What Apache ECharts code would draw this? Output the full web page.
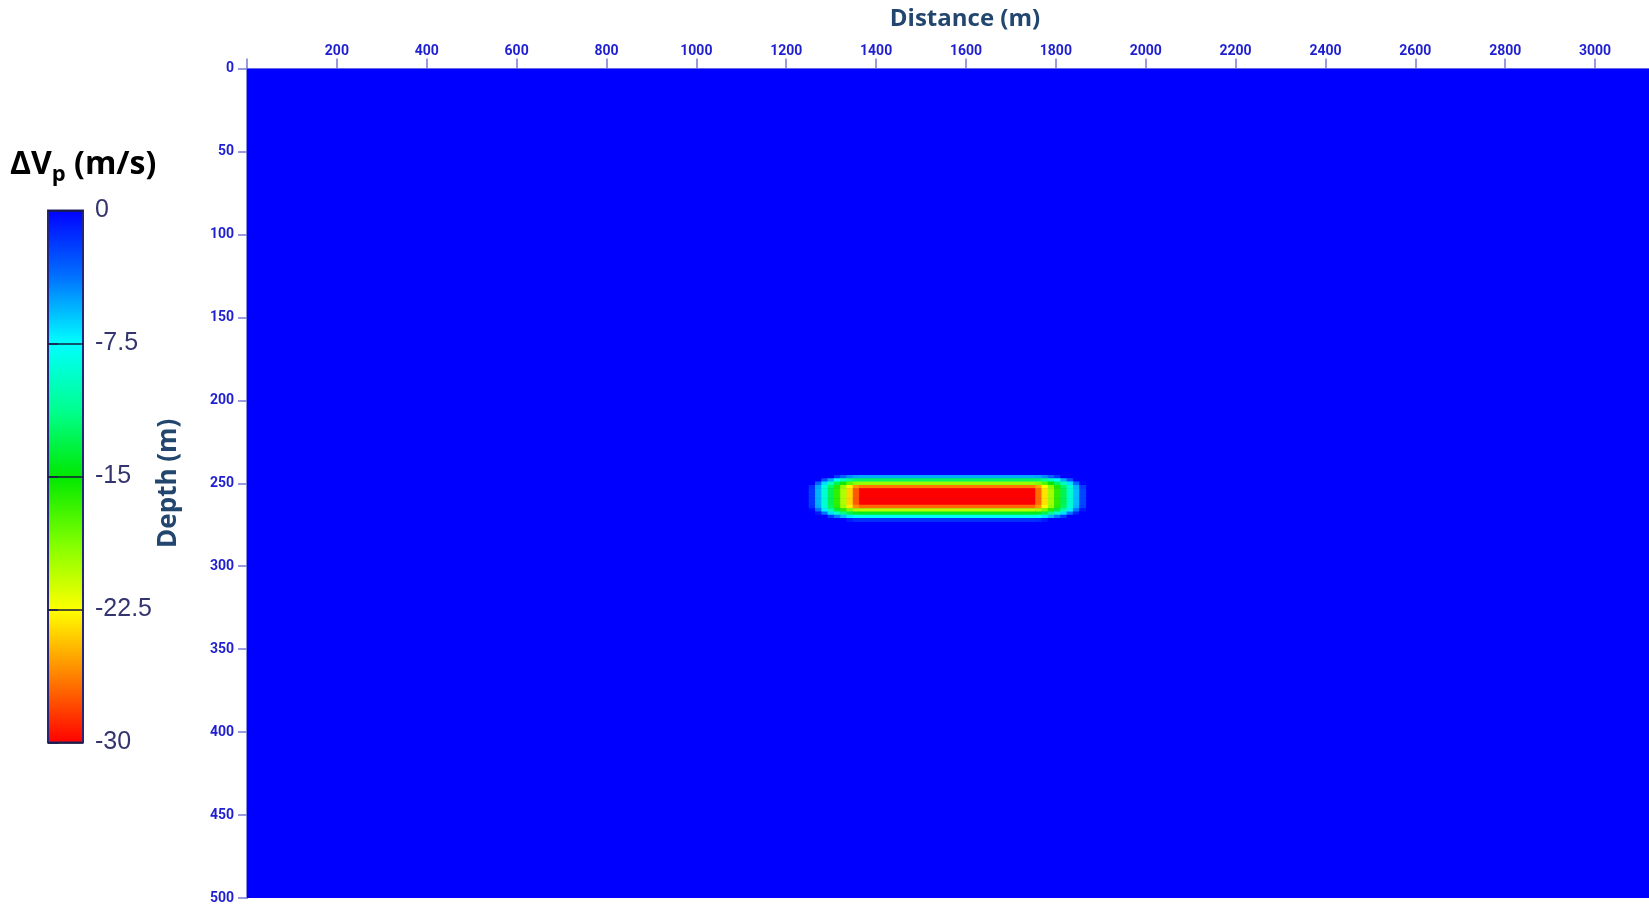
<!DOCTYPE html>
<html>
<head>
<meta charset="utf-8">
<script src="https://cdn.jsdelivr.net/npm/echarts@6/dist/echarts.min.js"></script>
<style>
html,body{margin:0;padding:0;background:#ffffff;}
#chart{width:1649px;height:905px;}
</style>
</head>
<body>
<div id="chart"></div>
<script>
// ---------------- data ----------------
const distanceRange = [0, 3120];           // m
const depthRange = [0, 500];               // m
const distanceTickLabels = [200, 400, 600, 800, 1000, 1200, 1400, 1600, 1800, 2000, 2200, 2400, 2600, 2800, 3000];
const depthTickLabels = [0, 50, 100, 150, 200, 250, 300, 350, 400, 450, 500];
const colorbarTickLabels = [0, -7.5, -15, -22.5, -30];
const dVpRange = [-30, 0];                 // m/s
const backgroundDVp = 0;

// palette from -30 (low) to 0 (high)
const paletteLowToHigh = ['#ff0000', '#ff8000', '#ffff00', '#80ff00', '#00e800', '#00ff90', '#00ffff', '#0070ff', '#0000ff'];

// anomaly cell boundaries
const distanceEdges = [1250, 1264, 1278, 1292, 1306, 1320, 1334, 1348, 1362, 1754, 1768, 1782, 1796, 1810, 1824, 1838, 1852, 1866];
const depthEdges = [245, 247, 249, 251, 253, 255, 257, 259, 261, 263, 265, 267, 269, 271, 273];

// dVp values per depth row (m/s), one value per distance cell
const dVp246 = [0, 0, 0, 0, -1.8, -3.4, -4.5, -5.1, -5.3, -5.1, -4.4, -3.2, -1.7, 0, 0, 0, 0];
const dVp248 = [0, 0, -2.7, -5.3, -7.7, -9.8, -11.3, -12.2, -12.4, -12.1, -11.1, -9.6, -7.6, -5.3, -2.8, 0, 0];
const dVp250 = [0, -3.3, -6.6, -9.8, -12.8, -15.5, -17.7, -19.1, -19.4, -18.9, -17.4, -15.2, -12.6, -9.7, -6.7, -3.5, -0.3];
const dVp252 = [-1.6, -5.2, -8.8, -12.4, -16.0, -19.5, -22.8, -25.6, -26.5, -25.2, -22.4, -19.1, -15.8, -12.4, -8.9, -5.5, -2.0];
const dVp254 = [-1.8, -5.5, -9.1, -12.8, -16.4, -20.1, -23.7, -27.4, -30, -26.8, -23.3, -19.7, -16.3, -12.8, -9.2, -5.8, -2.3];
const dVp256 = [-1.8, -5.5, -9.1, -12.8, -16.4, -20.1, -23.7, -27.4, -30, -26.8, -23.3, -19.7, -16.3, -12.8, -9.2, -5.8, -2.3];
const dVp258 = [-1.8, -5.5, -9.1, -12.8, -16.4, -20.1, -23.7, -27.4, -30, -26.8, -23.3, -19.7, -16.3, -12.8, -9.2, -5.8, -2.3];
const dVp260 = [-1.8, -5.5, -9.1, -12.8, -16.4, -20.1, -23.7, -27.4, -30, -26.8, -23.3, -19.7, -16.3, -12.8, -9.2, -5.8, -2.3];
const dVp262 = [-1.8, -5.5, -9.1, -12.8, -16.4, -20.1, -23.7, -27.4, -30, -26.8, -23.3, -19.7, -16.3, -12.8, -9.2, -5.8, -2.3];
const dVp264 = [-1.6, -5.3, -8.9, -12.5, -16.1, -19.6, -23.0, -25.9, -26.9, -25.5, -22.6, -19.3, -15.9, -12.5, -9.0, -5.6, -2.1];
const dVp266 = [-0.3, -3.7, -7.1, -10.4, -13.5, -16.3, -18.6, -20.2, -20.5, -20.0, -18.4, -16.0, -13.3, -10.3, -7.2, -4.0, -0.7];
const dVp268 = [0, -0.8, -3.8, -6.7, -9.2, -11.4, -13.0, -14.0, -14.2, -13.9, -12.8, -11.2, -9.1, -6.6, -3.9, -1.1, 0];
const dVp270 = [0, 0, 0, -2.0, -4.1, -5.8, -7.0, -7.7, -7.9, -7.7, -6.9, -5.6, -4.0, -2.0, 0, 0, 0];
const dVp272 = [0, 0, 0, 0, 0, 0, -0.9, -1.5, -1.6, -1.4, -0.8, 0, 0, 0, 0, 0, 0];
const dVpRows = [dVp246, dVp248, dVp250, dVp252, dVp254, dVp256, dVp258, dVp260, dVp262, dVp264, dVp266, dVp268, dVp270, dVp272];

// ---------------- build cells ----------------
const cells = [[distanceRange[0], distanceRange[1], depthRange[0], depthRange[1], backgroundDVp]];
for (let r = 0; r < dVpRows.length; r++) {
  for (let c = 0; c < dVpRows[r].length; c++) {
    cells.push([distanceEdges[c], distanceEdges[c + 1], depthEdges[r], depthEdges[r + 1], dVpRows[r][c]]);
  }
}

function renderCell(params, api) {
  const a = api.coord([api.value(0), api.value(2)]);
  const b = api.coord([api.value(1), api.value(3)]);
  const x = Math.min(a[0], b[0]);
  const y = Math.min(a[1], b[1]);
  return {
    type: 'rect',
    shape: { x: x, y: y, width: Math.abs(b[0] - a[0]) + 0.6, height: Math.abs(b[1] - a[1]) + 0.6 },
    style: { fill: api.visual('color') }
  };
}

const highToLow = paletteLowToHigh.slice().reverse();
const barStops = highToLow.map((c, i) => ({ offset: i / (highToLow.length - 1), color: c }));

const titleColor = '#22466e';
const tickColor = '#1f1fd0';
const axisColor = '#8a8ae0';

const chart = echarts.init(document.getElementById('chart'), null, { renderer: 'canvas' });
chart.setOption({
  animation: false,
  backgroundColor: '#ffffff',
  grid: [
    { left: 247, top: 68.5, right: 0, bottom: 6, containLabel: false },
    { left: 48, top: 210.5, width: 35, height: 532, show: true,
      backgroundColor: new echarts.graphic.LinearGradient(0, 0, 0, 1, barStops),
      borderColor: '#25257a', borderWidth: 2 }
  ],
  xAxis: [
    { gridIndex: 0, type: 'value', position: 'top', min: distanceRange[0], max: distanceRange[1], interval: 200,
      axisLine: { show: true, lineStyle: { color: axisColor, width: 2 } },
      axisTick: { show: true, length: 10, lineStyle: { color: '#7a7ad8', width: 1.5 } },
      axisLabel: { margin: 10, color: tickColor, fontFamily: 'Roboto', fontWeight: 'bold', fontSize: 14,
        showMaxLabel: false,
        formatter: v => (distanceTickLabels.indexOf(v) >= 0 ? String(v) : '') },
      splitLine: { show: false } },
    { gridIndex: 1, type: 'value', min: 0, max: 1, show: false }
  ],
  yAxis: [
    { gridIndex: 0, type: 'value', inverse: true, min: depthRange[0], max: depthRange[1], interval: 50,
      name: 'Depth (m)', nameLocation: 'middle', nameGap: 65, nameRotate: 90,
      nameTextStyle: { color: titleColor, fontFamily: 'Open Sans', fontWeight: 'bold', fontSize: 26 },
      axisLine: { show: true, lineStyle: { color: axisColor, width: 2 } },
      axisTick: { show: true, length: 9, lineStyle: { color: '#7a7ad8', width: 1.5 } },
      axisLabel: { margin: 13, color: tickColor, fontFamily: 'Roboto', fontWeight: 'bold', fontSize: 14,
        formatter: v => (depthTickLabels.indexOf(v) >= 0 ? String(v) : '') },
      splitLine: { show: false } },
    { gridIndex: 1, type: 'value', position: 'right', min: dVpRange[0], max: dVpRange[1], interval: 7.5,
      axisLine: { show: false },
      axisTick: { show: true, length: 10, lineStyle: { color: '#1c1c50', width: 1.5 } },
      axisLabel: { margin: 12, color: '#34346e', fontFamily: 'Liberation Sans', fontSize: 25,
        formatter: v => (colorbarTickLabels.indexOf(v) >= 0 ? String(v) : '') },
      splitLine: { show: true, lineStyle: { color: '#1a1a3a', width: 1.5 } } }
  ],
  visualMap: {
    type: 'continuous', show: false, seriesIndex: 0, dimension: 4,
    min: dVpRange[0], max: dVpRange[1],
    inRange: { color: paletteLowToHigh }
  },
  graphic: [
    { type: 'text', x: 965, y: 19,
      style: { text: 'Distance (m)', fill: titleColor, font: 'bold 24px "Open Sans"', align: 'center', verticalAlign: 'middle' } },
    { type: 'text', x: 10, y: 144,
      style: {
        text: '{a|ΔV}{b|p}{a| (m/s)}',
        verticalAlign: 'top',
        rich: {
          a: { fontFamily: 'Open Sans', fontWeight: 'bold', fontSize: 32, lineHeight: 42, color: '#1f3b5a', verticalAlign: 'middle' },
          b: { fontFamily: 'Open Sans', fontWeight: 'bold', fontSize: 22, lineHeight: 24, color: '#1f3b5a', verticalAlign: 'bottom' }
        }
      } }
  ],
  series: [
    { type: 'custom', xAxisIndex: 0, yAxisIndex: 0, clip: true,
      renderItem: renderCell,
      encode: { x: [0, 1], y: [2, 3] },
      data: cells }
  ]
});
</script>
</body>
</html>
